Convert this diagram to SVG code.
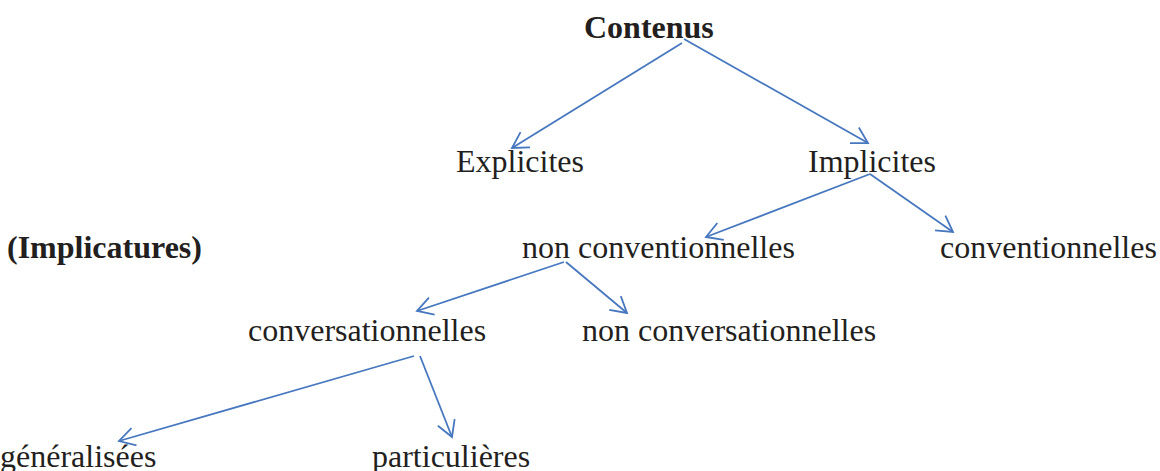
<svg xmlns="http://www.w3.org/2000/svg" width="1160" height="471" viewBox="0 0 1160 471">
<style>
  text { font-family: "Liberation Serif", "Times New Roman", serif; font-size: 32px; fill: #231f20; }
  .b { font-weight: bold; }
  .c line { stroke: #4677bf; stroke-width: 1.8; marker-end: url(#ah); }
</style>
<defs>
  <marker id="ah" markerUnits="userSpaceOnUse" markerWidth="22" markerHeight="22" viewBox="-20 -11 22 22" refX="0" refY="0" orient="auto">
    <path d="M-15.6,-9 L0,0 L-15.6,9" fill="none" stroke="#4677bf" stroke-width="1.8"/>
  </marker>
</defs>
<rect width="1160" height="471" fill="#ffffff"/>
<g id="n-contenus"><text class="b" x="584" y="38">Contenus</text></g>
<g id="n-explicites"><text x="456" y="172">Explicites</text></g>
<g id="n-implicites"><text x="808" y="172">Implicites</text></g>
<g id="n-implicatures"><text class="b" x="7" y="258">(Implicatures)</text></g>
<g id="n-nonconventionnelles"><text x="522" y="258">non conventionnelles</text></g>
<g id="n-conventionnelles"><text x="940" y="258">conventionnelles</text></g>
<g id="n-conversationnelles"><text x="248" y="341">conversationnelles</text></g>
<g id="n-nonconversationnelles"><text x="582" y="341">non conversationnelles</text></g>
<g id="n-generalisees"><text x="0" y="467">généralisées</text></g>
<g id="n-particulieres"><text x="372" y="467">particulières</text></g>
<g id="connectors" class="c">
  <line x1="682" y1="43" x2="512" y2="148"/>
  <line x1="684" y1="39" x2="868" y2="143"/>
  <line x1="870" y1="174" x2="706" y2="237"/>
  <line x1="870" y1="174" x2="953" y2="232"/>
  <line x1="564" y1="262" x2="417" y2="311"/>
  <line x1="566" y1="262" x2="627" y2="313"/>
  <line x1="414" y1="356" x2="119" y2="441"/>
  <line x1="420" y1="356" x2="452" y2="437"/>
</g>
</svg>
